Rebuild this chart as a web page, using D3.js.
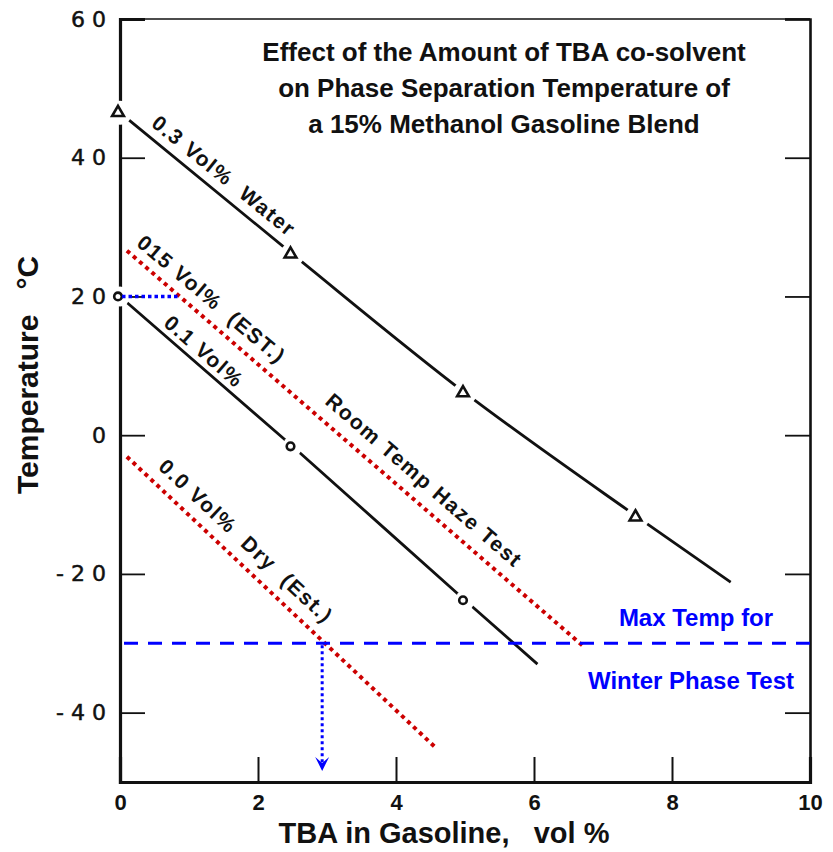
<!DOCTYPE html>
<html><head><meta charset="utf-8">
<script src="https://cdn.jsdelivr.net/npm/d3@7"></script>
<style>
html,body{margin:0;padding:0;background:#fff;}
svg{display:block;}
text{font-family:"Liberation Sans",Arial,Helvetica,sans-serif;}
</style></head>
<body>
<svg id="chart" width="833" height="852"></svg>
<script>
// ---- data ----
const xTicks = [0, 2, 4, 6, 8, 10];
const xTickLabels = ["0", "2", "4", "6", "8", "10"];
const yTicks = [-40, -20, 0, 20, 40, 60];
const yTickLabels = ["- 4 0", "- 2 0", "0", "2 0", "4 0", "6 0"];

// 0.3 vol% water (measured, triangles)
const water03X = [0, 2.5, 5, 7.5];
const water03Y = [46.5, 26.1, 6.1, -11.8];
const water03EndX = 8.85, water03EndY = -21.2;

// 0.1 vol% water (measured, circles)
const water01X = [0, 2.5, 5];
const water01Y = [20, -1.6, -23.8];
const water01EndX = 6.05, water01EndY = -33;

// estimated lines (red dotted)
const est015X = [0.1, 6.7];
const est015Y = [26.6, -30.3];
const dry00X = [0.1, 4.57];
const dry00Y = [-3.1, -45];

// reference lines
const maxWinterTemp = -30;
const roomTempRefY = 20, roomTempRefX = [0, 0.84];
const dryCrossX = 2.93, arrowEndY = -48.4;

const titleLines = ["Effect of the Amount of TBA co-solvent",
                    "on Phase Separation Temperature of",
                    "a 15% Methanol Gasoline Blend"];
const curveLabels = [
  {text: "0.3 Vol%  Water", x: 1.51, y: 37.4, angle: 39},
  {text: "015 Vol%  (EST.)", x: 1.33, y: 19.6, angle: 40},
  {text: "0.1 Vol%", x: 1.22, y: 12.1, angle: 41},
  {text: "Room Temp Haze Test", x: 4.41, y: -6.5, angle: 41},
  {text: "0.0 Vol%  Dry  (Est.)", x: 1.83, y: -15.25, angle: 43}
];

// ---- drawing ----
const svg = d3.select("#chart");
const x = d3.scaleLinear().domain([0, 10]).range([120, 810]);
const y = d3.scaleLinear().domain([-50, 60]).range([782, 19]);

// top border
svg.append("line").attr("x1", x(0)).attr("x2", x(10)).attr("y1", y(60)).attr("y2", y(60))
  .attr("stroke", "#111").attr("stroke-width", 1.6);

// left axis
const gL = svg.append("g").attr("transform", `translate(${x(0)},0)`)
  .call(d3.axisLeft(y).tickValues(yTicks).tickSize(-25).tickPadding(14)
    .tickFormat((d, i) => yTickLabels[i]));
gL.select(".domain").attr("stroke", "#111").attr("stroke-width", 3.2);
gL.selectAll(".tick line").attr("stroke", "#111").attr("stroke-width", 1.8)
  .attr("display", d => d === 60 ? "none" : null);
gL.selectAll(".tick text").attr("font-size", 22).attr("fill", "#111")
  .attr("stroke", "#111").attr("stroke-width", 0.5)
  .style("font-family", "'DejaVu Sans', sans-serif");

// right axis
const gR = svg.append("g").attr("transform", `translate(${x(10)},0)`)
  .call(d3.axisRight(y).tickValues(yTicks).tickSize(-25).tickFormat(""));
gR.select(".domain").attr("stroke", "#111").attr("stroke-width", 2.6);
gR.selectAll(".tick line").attr("stroke", "#111").attr("stroke-width", 1.8);

// bottom axis
const gB = svg.append("g").attr("transform", `translate(0,${y(-50)})`)
  .call(d3.axisBottom(x).tickValues(xTicks).tickSize(-25).tickPadding(12)
    .tickFormat((d, i) => xTickLabels[i]));
gB.select(".domain").attr("stroke", "#111").attr("stroke-width", 3.2);
gB.selectAll(".tick line").attr("stroke", "#111").attr("stroke-width", 2)
  .attr("display", d => (d === 0 || d === 10) ? "none" : null);
gB.selectAll(".tick text").attr("font-size", 22).attr("font-weight", "bold").attr("fill", "#111");

// black measured lines
const line = d3.line().x(d => x(d[0])).y(d => y(d[1])).curve(d3.curveMonotoneX);
const w03 = water03X.map((v, i) => [v, water03Y[i]]).concat([[water03EndX, water03EndY]]);
const w01 = water01X.map((v, i) => [v, water01Y[i]]).concat([[water01EndX, water01EndY]]);
[w03, w01].forEach(pts => {
  svg.append("path").attr("d", line(pts)).attr("fill", "none")
    .attr("stroke", "#111").attr("stroke-width", 2.8);
});

// white halos producing gaps around markers
water03X.forEach((v, i) => svg.append("circle").attr("cx", x(v)).attr("cy", y(water03Y[i]))
  .attr("r", 12).attr("fill", "#fff"));
water01X.forEach((v, i) => svg.append("circle").attr("cx", x(v)).attr("cy", y(water01Y[i]))
  .attr("r", 10).attr("fill", "#fff"));

// markers
const tri = d3.symbol().type(d3.symbolTriangle).size(60);
water03X.forEach((v, i) => svg.append("path").attr("d", tri())
  .attr("transform", `translate(${x(v) - 2},${y(water03Y[i])})`)
  .attr("fill", "#fff").attr("stroke", "#111").attr("stroke-width", 2.6));
water01X.forEach((v, i) => svg.append("circle").attr("cx", x(v) - 2).attr("cy", y(water01Y[i]))
  .attr("r", 3.8).attr("fill", "#fff").attr("stroke", "#111").attr("stroke-width", 2.6));

// red dotted estimate lines
const straight = d3.line().x(d => x(d[0])).y(d => y(d[1]));
[[est015X, est015Y], [dry00X, dry00Y]].forEach(([xs, ys]) => {
  svg.append("path").attr("d", straight(xs.map((v, i) => [v, ys[i]])))
    .attr("fill", "none").attr("stroke", "#cc0000").attr("stroke-width", 4)
    .attr("stroke-dasharray", "4,4.2");
});

// blue dashed max winter temp line
svg.append("line").attr("x1", x(0) + 4).attr("x2", x(10)).attr("y1", y(maxWinterTemp)).attr("y2", y(maxWinterTemp))
  .attr("stroke", "#0000ff").attr("stroke-width", 3).attr("stroke-dasharray", "14,10");

// blue dotted room temp ref
svg.append("line").attr("x1", x(roomTempRefX[0]) + 2).attr("x2", x(roomTempRefX[1]))
  .attr("y1", y(roomTempRefY)).attr("y2", y(roomTempRefY))
  .attr("stroke", "#0000ff").attr("stroke-width", 3.5).attr("stroke-dasharray", "3.5,3");

// blue dotted arrow
svg.append("line").attr("x1", x(dryCrossX)).attr("x2", x(dryCrossX))
  .attr("y1", y(maxWinterTemp) + 2).attr("y2", y(arrowEndY) - 4)
  .attr("stroke", "#0000ff").attr("stroke-width", 3).attr("stroke-dasharray", "3,3");
const ax = x(dryCrossX), ay = y(arrowEndY);
svg.append("path").attr("d", `M${ax - 7},${ay - 14} L${ax},${ay} L${ax + 7},${ay - 14} L${ax},${ay - 8} Z`)
  .attr("fill", "#0000ff");

// curve labels
curveLabels.forEach(l => {
  svg.append("text").attr("transform", `translate(${x(l.x)},${y(l.y)}) rotate(${l.angle})`)
    .attr("text-anchor", "middle").attr("dominant-baseline", "central")
    .attr("font-size", 21).attr("font-weight", "bold").attr("letter-spacing", 1.6)
    .attr("fill", "#111").style("white-space", "pre").text(l.text);
});

// blue labels
svg.append("text").attr("x", 696).attr("y", y(-27.3) + 1).attr("text-anchor", "middle")
  .attr("font-size", 24).attr("font-weight", "bold").attr("fill", "#0000ff").text("Max Temp for");
svg.append("text").attr("x", 691).attr("y", y(-36.4) + 1).attr("text-anchor", "middle")
  .attr("font-size", 24).attr("font-weight", "bold").attr("fill", "#0000ff").text("Winter Phase Test");

// title
titleLines.forEach((t, i) => {
  svg.append("text").attr("x", 504).attr("y", 61 + i * 36).attr("text-anchor", "middle")
    .attr("font-size", 26).attr("font-weight", "bold").attr("fill", "#111").text(t);
});

// axis titles
svg.append("text").attr("x", 444).attr("y", 843).attr("text-anchor", "middle")
  .attr("font-size", 29).attr("font-weight", "bold").attr("fill", "#111")
  .style("white-space", "pre").text("TBA in Gasoline,   vol %");
svg.append("text").attr("transform", "translate(38,375) rotate(-90)").attr("text-anchor", "middle")
  .attr("font-size", 30).attr("font-weight", "bold").attr("fill", "#111")
  .style("white-space", "pre").text("Temperature   °C");
</script>
</body></html>
